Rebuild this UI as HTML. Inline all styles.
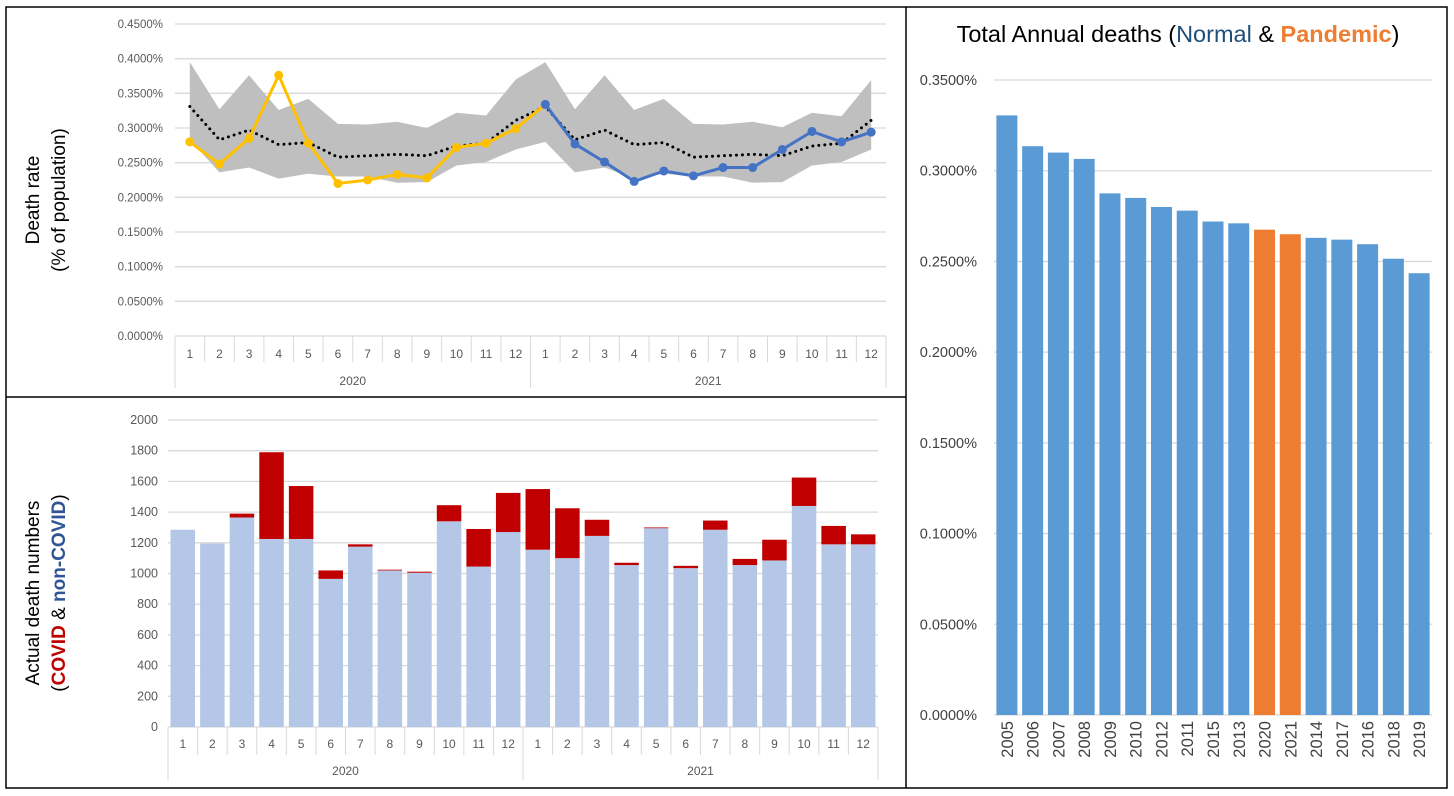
<!DOCTYPE html>
<html><head><meta charset="utf-8"><style>
html,body{margin:0;padding:0;background:#fff;}
svg{display:block;font-family:"Liberation Sans",sans-serif;}
</style></head><body>
<svg id="s" width="1454" height="796" viewBox="0 0 1454 796">
<g fill="none" stroke="#000" stroke-width="1.5">
<rect x="6" y="7" width="1441" height="781"/>
<line x1="906" y1="7" x2="906" y2="788"/>
<line x1="6" y1="397" x2="906" y2="397"/>
</g>
<g id="top"></g>
<g id="bot"></g>
<g id="right"></g>
<text x="45" y="200" transform="rotate(-90 45 200)" text-anchor="middle" font-size="19" fill="#000"><tspan x="45" dy="-6">Death rate</tspan><tspan x="45" dy="26">(% of population)</tspan></text>
<text x="45" y="593" transform="rotate(-90 45 593)" text-anchor="middle" font-size="19" fill="#000"><tspan x="45" dy="-6">Actual death numbers</tspan><tspan x="45" dy="26">(<tspan fill="#c00000" font-weight="bold">COVID</tspan> &amp; <tspan fill="#2f5597" font-weight="bold">non-COVID</tspan>)</tspan></text>
<text x="1178" y="42" text-anchor="middle" font-size="23.5" fill="#000">Total Annual deaths (<tspan fill="#1f4e79">Normal</tspan> &amp; <tspan fill="#ed7d31" font-weight="bold">Pandemic</tspan>)</text>
</svg>
<script>
const NS="http://www.w3.org/2000/svg";
const months=[1,2,3,4,5,6,7,8,9,10,11,12];
const years=["2020","2021"];
const rate2020=[0.280,0.248,0.285,0.376,0.278,0.220,0.225,0.233,0.228,0.272,0.278,0.299];
const rate2021=[0.334,0.277,0.251,0.223,0.238,0.231,0.243,0.243,0.269,0.295,0.280,0.294];
const avgRate=[0.331,0.283,0.297,0.276,0.279,0.258,0.260,0.262,0.260,0.274,0.278,0.311,0.331,0.283,0.297,0.276,0.279,0.258,0.260,0.262,0.260,0.274,0.278,0.311];
const bandHigh=[0.395,0.327,0.376,0.326,0.342,0.306,0.305,0.309,0.300,0.322,0.318,0.370,0.395,0.327,0.376,0.326,0.342,0.306,0.305,0.309,0.301,0.322,0.317,0.369];
const bandLow=[0.283,0.236,0.243,0.227,0.234,0.230,0.230,0.221,0.222,0.246,0.251,0.269,0.280,0.236,0.243,0.227,0.234,0.230,0.230,0.221,0.222,0.246,0.251,0.269];
const rateTicks=[0,0.05,0.10,0.15,0.20,0.25,0.30,0.35,0.40,0.45];
const nonCovid=[1285,1195,1365,1225,1225,965,1175,1020,1005,1340,1045,1270,1155,1100,1245,1055,1295,1035,1285,1055,1085,1440,1190,1190];
const totalDeaths=[1285,1195,1390,1790,1570,1020,1190,1025,1012,1445,1290,1525,1550,1425,1350,1070,1300,1050,1345,1095,1220,1625,1310,1255];
const countTicks=[0,200,400,600,800,1000,1200,1400,1600,1800,2000];
const annualYears=["2005","2006","2007","2008","2009","2010","2012","2011","2015","2013","2020","2021","2014","2017","2016","2018","2019"];
const annualRate=[0.3305,0.3135,0.310,0.3065,0.2875,0.285,0.280,0.278,0.272,0.271,0.2675,0.265,0.263,0.262,0.2595,0.2515,0.2435];
const annualTicks=[0,0.05,0.10,0.15,0.20,0.25,0.30,0.35];
const pandemicYears=["2020","2021"];

function mk(tag,attrs,parent,text){const e=document.createElementNS(NS,tag);for(const k in attrs)e.setAttribute(k,attrs[k]);if(text!==undefined)e.textContent=text;parent.appendChild(e);return e;}

// ---------- top chart ----------
(function(){
const g=document.getElementById('top');
const L=175,R=886,T=24,B=336,N=24,step=(R-L)/N;
const y=v=>B-(v/0.45)*(B-T);
const x=i=>L+step*(i+0.5);
rateTicks.forEach(t=>{
 const l=mk('line',{x1:L,x2:R,y1:y(t),y2:y(t),stroke:'#d9d9d9','stroke-width':1.3},g);
 
 
 const tx=mk('text',{x:163,y:y(t)+4,'text-anchor':'end','font-size':11.5,fill:'#595959'},g,t.toFixed(4)+'%');
 
 
});
let pts=bandHigh.map((v,i)=>x(i)+','+y(v)).join(' ')+' '+bandLow.map((v,i)=>x(i)+','+y(v)).reverse().join(' ');
const band=mk('polygon',{points:pts,fill:'#bfbfbf'},g);


const avg=mk('polyline',{points:avgRate.map((v,i)=>x(i)+','+y(v)).join(' '),fill:'none',stroke:'#000','stroke-width':3,'stroke-dasharray':'0 6','stroke-linecap':'round'},g);


const yl=rate2020.concat([rate2021[0]]);
const yline=mk('polyline',{points:yl.map((v,i)=>x(i)+','+y(v)).join(' '),fill:'none',stroke:'#ffc000','stroke-width':3},g);


const bline=mk('polyline',{points:rate2021.map((v,i)=>x(i+12)+','+y(v)).join(' '),fill:'none',stroke:'#4472c4','stroke-width':3},g);


rate2020.forEach((v,i)=>{const c=mk('circle',{cx:x(i),cy:y(v),r:4.5,fill:'#ffc000'},g);
 
 });
rate2021.forEach((v,i)=>{const c=mk('circle',{cx:x(i+12),cy:y(v),r:4.5,fill:'#4472c4'},g);
 
 });
for(let i=0;i<=N;i++){const xx=L+step*i;const big=(i%12===0);
 const l=mk('line',{x1:xx,x2:xx,y1:B,y2:big?388:362,stroke:'#d9d9d9','stroke-width':1},g);
 
 }
for(let i=0;i<N;i++){const t=mk('text',{x:x(i),y:358,'text-anchor':'middle','font-size':12,fill:'#595959'},g,months[i%12]);
 
 }
years.forEach((yr,k)=>{const t=mk('text',{x:L+step*(6+12*k),y:385,'text-anchor':'middle','font-size':12,fill:'#595959'},g,yr);
 
 });
})();

// ---------- bottom chart ----------
(function(){
const g=document.getElementById('bot');
const L=168,R=878,T=420,B=727,N=24,step=(R-L)/N,bw=24.5;
const y=v=>B-(v/2000)*(B-T);
const x=i=>L+step*(i+0.5);
countTicks.forEach(t=>{
 const l=mk('line',{x1:L,x2:R,y1:y(t),y2:y(t),stroke:'#d9d9d9','stroke-width':1.3},g);
 
 
 const tx=mk('text',{x:158,y:y(t)+4,'text-anchor':'end','font-size':12.5,fill:'#595959'},g,t);
 
 
});
nonCovid.forEach((v,i)=>{
 const r=mk('rect',{x:x(i)-bw/2,y:y(v),width:bw,height:B-y(v),fill:'#b4c7e7'},g);
 
 
 const r2=mk('rect',{x:x(i)-bw/2,y:y(totalDeaths[i]),width:bw,height:Math.max(0,y(v)-y(totalDeaths[i])),fill:'#c00000'},g);
 
 
});
for(let i=0;i<=N;i++){const xx=L+step*i;const big=(i%12===0);
 const l=mk('line',{x1:xx,x2:xx,y1:B,y2:big?780:755,stroke:'#d9d9d9','stroke-width':1},g);
 
 }
for(let i=0;i<N;i++){const t=mk('text',{x:x(i),y:748,'text-anchor':'middle','font-size':12,fill:'#595959'},g,months[i%12]);
 
 }
years.forEach((yr,k)=>{const t=mk('text',{x:L+step*(6+12*k),y:775,'text-anchor':'middle','font-size':12,fill:'#595959'},g,yr);
 
 });
})();

// ---------- right chart ----------
(function(){
const g=document.getElementById('right');
const L=994,R=1432,T=80,B=715,N=annualYears.length,step=(R-L)/N,bw=21;
const y=v=>B-(v/0.35)*(B-T);
const x=i=>L+step*(i+0.5);
annualTicks.forEach(t=>{
 const l=mk('line',{x1:L,x2:R,y1:y(t),y2:y(t),stroke:'#d9d9d9','stroke-width':1.3},g);
 
 
 const tx=mk('text',{x:977,y:y(t)+5,'text-anchor':'end','font-size':14.5,fill:'#404040'},g,t.toFixed(4)+'%');
 
 
});
annualRate.forEach((v,i)=>{
 const pan=pandemicYears.includes(annualYears[i]);
 const r=mk('rect',{x:x(i)-bw/2,y:y(v),width:bw,height:B-y(v),fill:pan?'#ed7d31':'#5b9bd5'},g);
 
 
 const t=mk('text',{x:0,y:0,'text-anchor':'end','font-size':16.5,fill:'#404040',transform:'translate('+(x(i)+6)+',721) rotate(-90)'},g,annualYears[i]);
 
 
});
})();
</script>
</body></html>
